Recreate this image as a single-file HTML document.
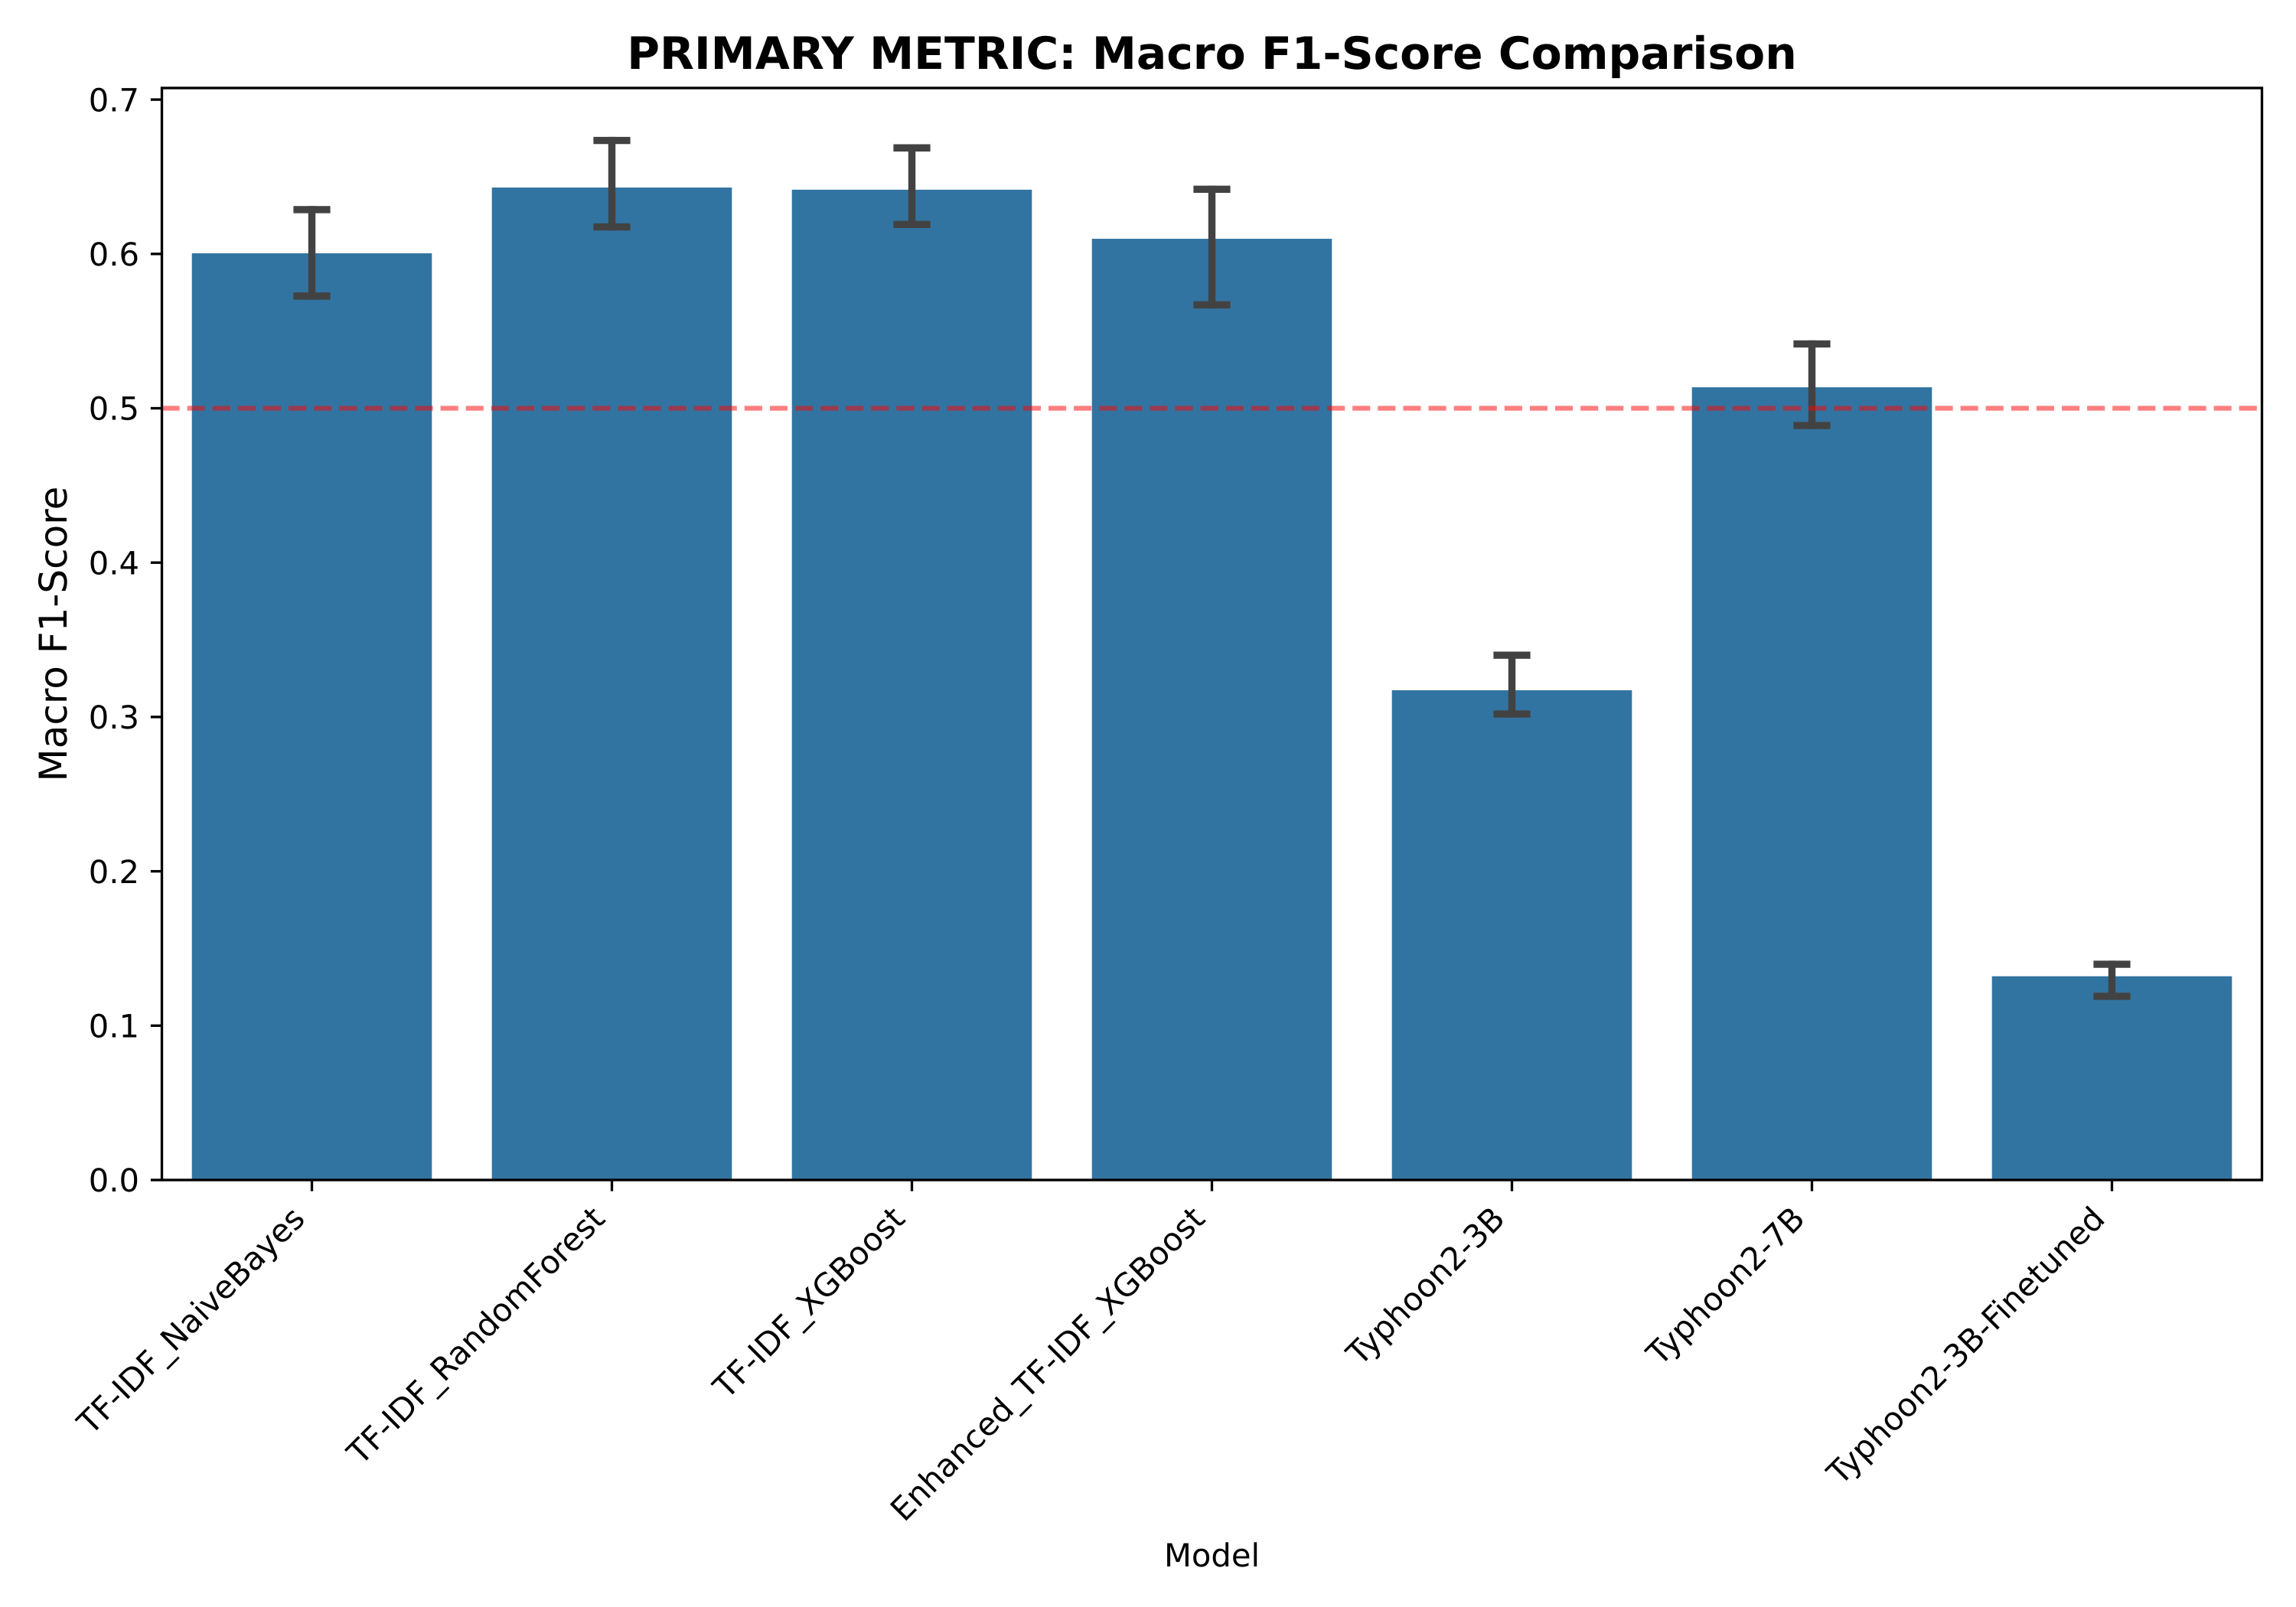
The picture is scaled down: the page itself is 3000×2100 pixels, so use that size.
<!DOCTYPE html>
<html lang="en">
<head>
<meta charset="utf-8">
<title>PRIMARY METRIC: Macro F1-Score Comparison</title>
<style>
html,body{margin:0;padding:0;background:#fff;}
svg{display:block;}
text{font-family:"DejaVu Sans",sans-serif;fill:#000;text-rendering:geometricPrecision;}
</style>
</head>
<body>
<svg id="chart" xmlns="http://www.w3.org/2000/svg" width="3000" height="2100" viewBox="0 0 3000 2100">
<rect x="0" y="0" width="3000" height="2100" fill="#ffffff"/>
</svg>
<script>
const categories = ["TF-IDF_NaiveBayes", "TF-IDF_RandomForest", "TF-IDF_XGBoost", "Enhanced_TF-IDF_XGBoost", "Typhoon2-3B", "Typhoon2-7B", "Typhoon2-3B-Finetuned"];
const f1Values = [0.6004, 0.6430, 0.6416, 0.6098, 0.3173, 0.5136, 0.1320];
const errorLower = [0.5727, 0.6175, 0.6191, 0.5670, 0.3019, 0.4888, 0.1190];
const errorUpper = [0.6287, 0.6735, 0.6687, 0.6419, 0.3400, 0.5417, 0.1398];
const yTickValues = [0, 0.1, 0.2, 0.3, 0.4, 0.5, 0.6, 0.7];
const yTickLabels = ["0.0", "0.1", "0.2", "0.3", "0.4", "0.5", "0.6", "0.7"];
const referenceValue = [0.5];
const yDomainMax = 0.7075;

const svg = document.getElementById('chart');
const NS = 'http://www.w3.org/2000/svg';
const plot = {left: 211.5, right: 2955.5, top: 115, bottom: 1542};
const unit = (plot.right - plot.left) / categories.length;

function xScale(i) { return plot.left + unit * (i + 0.5); }
function yScale(v) { return plot.bottom - (v / yDomainMax) * (plot.bottom - plot.top); }

function make(tag, props, text) {
  const el = document.createElementNS(NS, tag);
  for (const k in props) el.setAttribute(k, props[k]);
  if (text !== undefined) el.textContent = text;
  svg.appendChild(el);
  return el;
}

// bars
categories.forEach(function (name, i) {
  const y = yScale(f1Values[i]);
  const el = make('rect', {x: xScale(i) - unit * 0.4, y: y, width: unit * 0.8, height: plot.bottom - y, fill: '#3274a1'});
  
  
});

// error bars
categories.forEach(function (name, i) {
  const x = xScale(i);
  const lo = yScale(errorLower[i]);
  const hi = yScale(errorUpper[i]);
  const style = {stroke: '#424242', 'stroke-width': 9.4, 'stroke-linecap': 'square', fill: 'none'};
  const stem = make('line', Object.assign({x1: x, x2: x, y1: lo, y2: hi}, style));
  
  
  const capLow = make('line', Object.assign({x1: x - 19.4, x2: x + 19.4, y1: lo, y2: lo}, style));
  
  
  const capHigh = make('line', Object.assign({x1: x - 19.4, x2: x + 19.4, y1: hi, y2: hi}, style));
  
  
});

// reference line
const refLine = make('line', {x1: plot.left, x2: plot.right, y1: yScale(referenceValue[0]), y2: yScale(referenceValue[0]), stroke: '#ff0000', 'stroke-opacity': 0.5, 'stroke-width': 6.25, 'stroke-dasharray': '23.1 10'});



// y axis ticks
yTickValues.forEach(function (v, i) {
  const y = yScale(v);
  const tick = make('line', {x1: plot.left - 14.6, x2: plot.left, y1: y, y2: y, stroke: '#000', 'stroke-width': 3.33});
  
  
  const label = make('text', {x: 182, y: y + 15.2, 'text-anchor': 'end', 'font-size': 41.67}, yTickLabels[i]);
  
  
});

// x axis ticks
categories.forEach(function (name, i) {
  const x = xScale(i);
  const tick = make('line', {x1: x, x2: x, y1: plot.bottom, y2: plot.bottom + 14.6, stroke: '#000', 'stroke-width': 3.33});
  
  
  const ax = x - 7;
  const ay = plot.bottom + 53;
  const label = make('text', {x: ax, y: ay, 'text-anchor': 'end', 'font-size': 41.67, transform: 'rotate(-45 ' + ax + ' ' + ay + ')'}, name);
  
  
});

// axes frame
const frame = make('rect', {x: plot.left, y: plot.top, width: plot.right - plot.left, height: plot.bottom - plot.top, fill: 'none', stroke: '#000', 'stroke-width': 3.33});



// titles
const title = make('text', {x: (plot.left + plot.right) / 2, y: 90, 'text-anchor': 'middle', 'font-size': 58.33, 'font-weight': 'bold'}, 'PRIMARY METRIC: Macro F1-Score Comparison');



const yCenter = (plot.top + plot.bottom) / 2;
const yTitle = make('text', {x: 87, y: yCenter, 'text-anchor': 'middle', 'font-size': 50, transform: 'rotate(-90 87 ' + yCenter + ')'}, 'Macro F1-Score');



const xTitle = make('text', {x: (plot.left + plot.right) / 2, y: 2047, 'text-anchor': 'middle', 'font-size': 41.67}, 'Model');


</script>
</body>
</html>
